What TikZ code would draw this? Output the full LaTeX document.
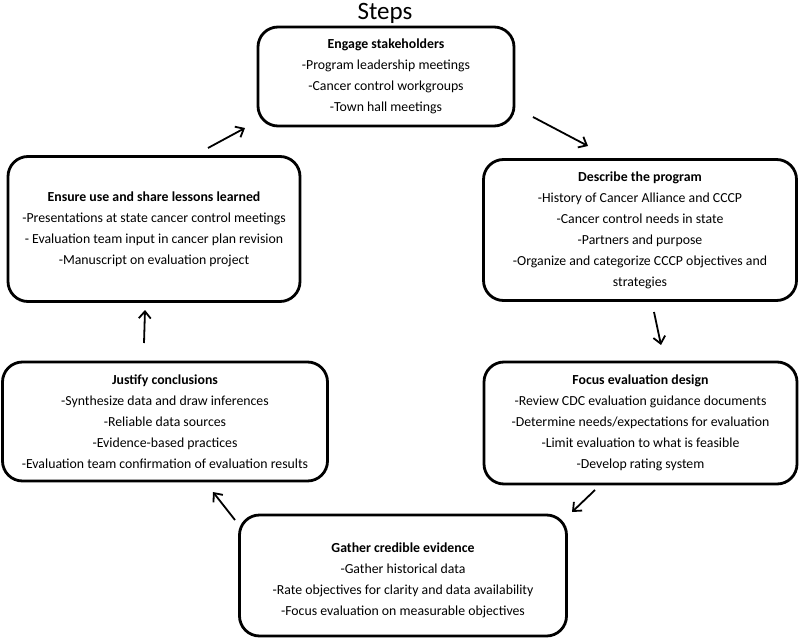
\documentclass[tikz,border=0pt]{standalone}
\usepackage{fontspec}
\setmainfont{Carlito}
\usetikzlibrary{arrows.meta}
\begin{document}
\begin{tikzpicture}[x=1pt,y=-1pt,
  stepbox/.style={draw, line width=2.8pt, rounded corners=20pt, align=center,
    font=\fontsize{13.8}{21}\selectfont, inner sep=0pt},
  steptext/.style={align=center, font=\fontsize{13.8}{21}\selectfont, inner sep=0pt},
  flow/.style={line width=1.8pt, -{Straight Barb[length=7pt,width=12pt,line width=1.8pt]}}]
\useasboundingbox (0,0) rectangle (800,642);
\node[font=\fontsize{25}{28}\selectfont] (title) at (385,13) {Steps};
\node[stepbox, minimum width=256pt, minimum height=99pt] (engage) at (386,76.5)
  {\textbf{Engage stakeholders}\\-Program leadership meetings\\-Cancer control workgroups\\-Town hall meetings};
\node[stepbox, minimum width=313pt, minimum height=141pt] (describe) at (640,230)
  {\textbf{Describe the program}\\-History of Cancer Alliance and CCCP\\-Cancer control needs in state\\-Partners and purpose\\-Organize and categorize CCCP objectives and\\strategies};
\node[stepbox, minimum width=313pt, minimum height=122pt] (focus) at (640.5,423)
  {\textbf{Focus evaluation design}\\-Review CDC evaluation guidance documents\\-Determine needs/expectations for evaluation\\-Limit evaluation to what is feasible\\-Develop rating system};
\node[stepbox, minimum width=327pt, minimum height=121pt] (gather) at (403,575.5) {};
\node[steptext, yshift=-5pt] (gathertext) at (gather.center)
  {\textbf{Gather credible evidence}\\-Gather historical data\\-Rate objectives for clarity and data availability\\-Focus evaluation on measurable objectives};
\node[stepbox, minimum width=325pt, minimum height=119pt] (justify) at (165,421.5)
  {\textbf{Justify conclusions}\\-Synthesize data and draw inferences\\-Reliable data sources\\-Evidence-based practices\\-Evaluation team confirmation of evaluation results};
\node[stepbox, minimum width=292pt, minimum height=145pt] (ensure) at (154,229)
  {\textbf{Ensure use and share lessons learned}\\-Presentations at state cancer control meetings\\- Evaluation team input in cancer plan revision\\-Manuscript on evaluation project};
\coordinate (a1s) at (533,117); \coordinate (a1e) at (588,146);
\coordinate (a2s) at (654,312); \coordinate (a2e) at (661,345);
\coordinate (a3s) at (595,490); \coordinate (a3e) at (572,512);
\coordinate (a4s) at (235,520); \coordinate (a4e) at (213,492);
\coordinate (a5s) at (144,343); \coordinate (a5e) at (145,310);
\coordinate (a6s) at (208,148); \coordinate (a6e) at (245,128);
\draw[flow] (a1s) -- (a1e);
\draw[flow] (a2s) -- (a2e);
\draw[flow] (a3s) -- (a3e);
\draw[flow] (a4s) -- (a4e);
\draw[flow] (a5s) -- (a5e);
\draw[flow] (a6s) -- (a6e);
\end{tikzpicture}
\end{document}
